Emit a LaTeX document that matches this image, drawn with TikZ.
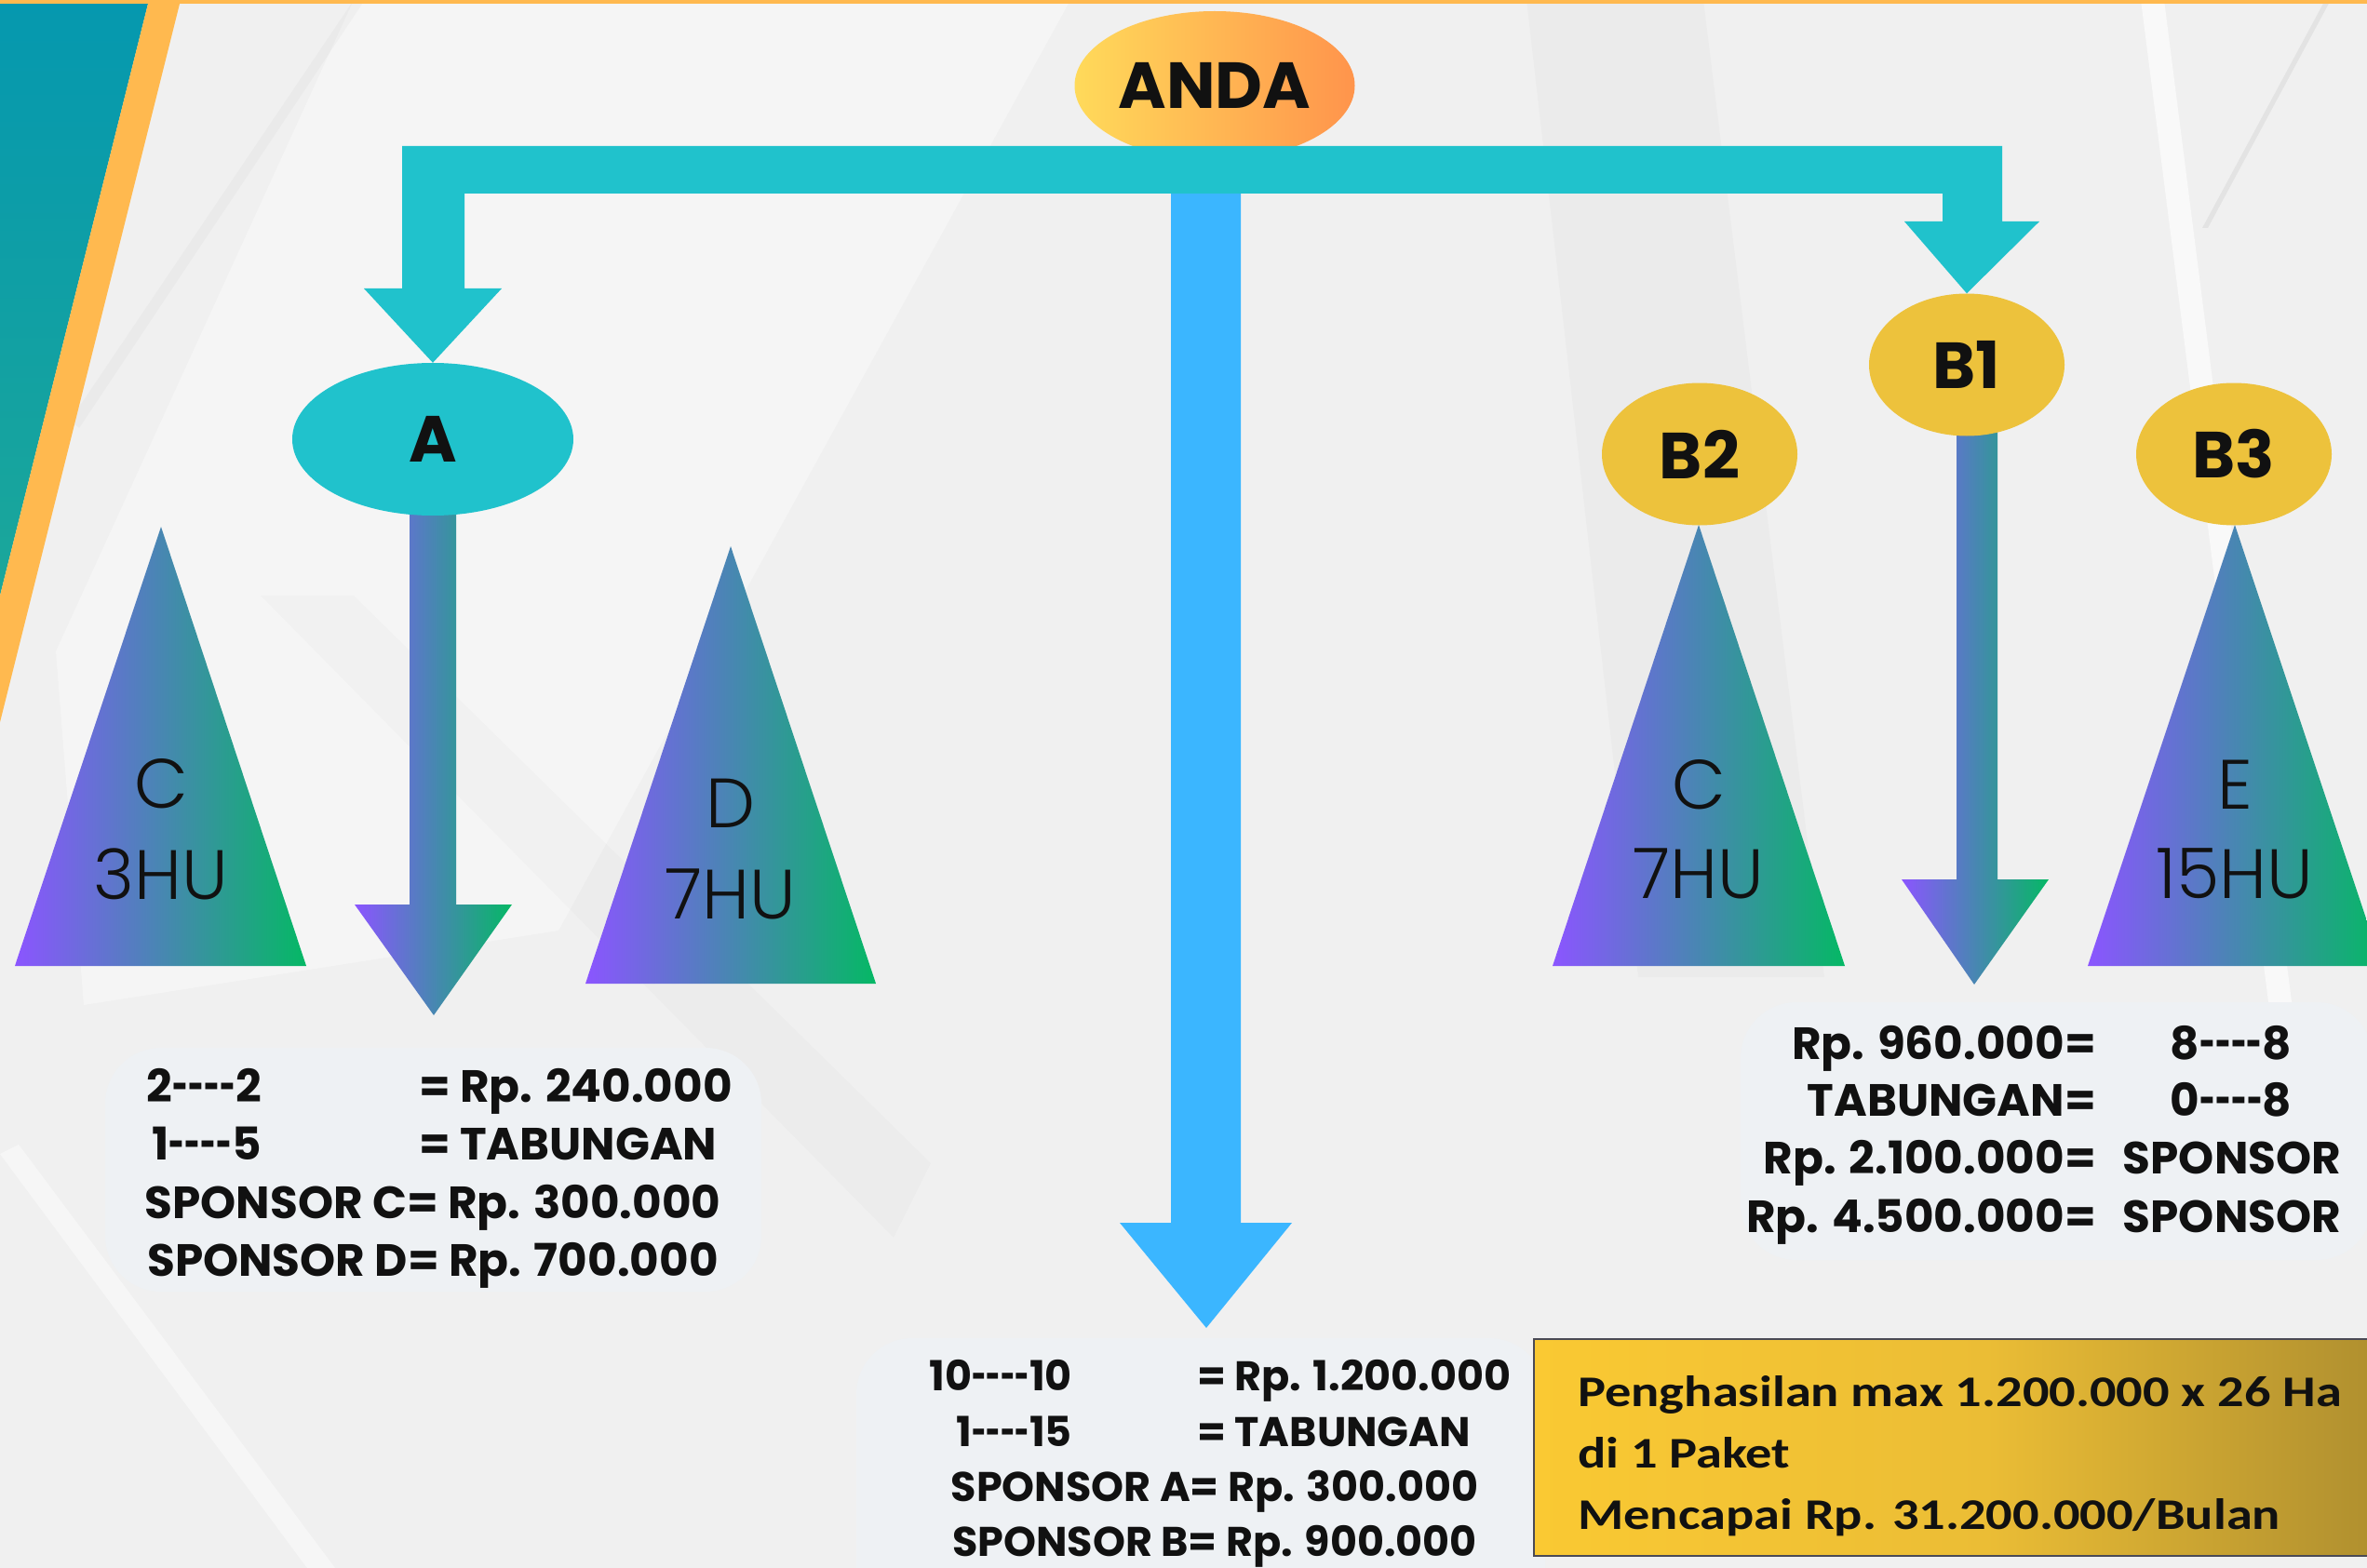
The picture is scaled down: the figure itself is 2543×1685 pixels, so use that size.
\documentclass[tikz,border=0pt]{standalone}
\usepackage{fontspec}
\usepackage{graphicx}
\setmainfont{Poppins}[Ligatures=TeXOff]
\newfontfamily\lightfam{Poppins Light}[Ligatures=TeXOff]
\newfontfamily\calibfam{Carlito}[FakeStretch=1.2,Ligatures=TeXOff]
\usetikzlibrary{shapes.geometric}
\definecolor{bgc}{HTML}{F0F0F0}
\definecolor{tealA}{HTML}{0598AF}
\definecolor{tealB}{HTML}{1BA79A}
\definecolor{orng}{HTML}{FFB94F}
\definecolor{cyanc}{HTML}{20C2CC}
\definecolor{bluec}{HTML}{3BB6FF}
\definecolor{goldc}{HTML}{EDC23C}
\definecolor{andaL}{HTML}{FFDA5A}
\definecolor{andaR}{HTML}{FF944C}
\definecolor{purp}{HTML}{8B55FF}
\definecolor{grn}{HTML}{05B865}
\definecolor{boxc}{HTML}{EEF1F4}
\definecolor{goldL}{HTML}{FAC933}
\definecolor{goldM}{HTML}{EBBD35}
\definecolor{goldR}{HTML}{A6882E}
\definecolor{goldB}{HTML}{4A4A55}
\definecolor{ink}{HTML}{111111}
\newcommand\lblfont{\bfseries\fontsize{70}{80}\selectfont}
\newcommand\trifont{\lightfam\fontsize{75}{86}\selectfont}
\newcommand\boxfont{\bfseries\fontsize{48.5}{56}\selectfont}
\newcommand\cboxfont{\bfseries\fontsize{44.5}{52}\selectfont}
\newcommand\goldfont{\calibfam\bfseries\fontsize{47}{67}\selectfont}
\newcommand\hy{\scalebox{0.6}[1]{-}}
\begin{document}
\begin{tikzpicture}[x=1pt,y=-1pt,
  oval/.style={ellipse,inner sep=0,font=\lblfont,text=ink},
  gradfill/.style={left color=purp,right color=grn},
  tri/.style={gradfill},
  trilbl/.style={inner sep=0,anchor=base,font=\trifont,text=ink},
  txtL/.style={inner sep=0,anchor=base west,text=ink},
  txtR/.style={inner sep=0,anchor=base east,text=ink},
  txtC/.style={inner sep=0,anchor=base,text=ink},
  panel/.style={fill=boxc,rounded corners=60}]
\useasboundingbox (0,0) rectangle (2543,1685);
\clip (0,0) rectangle (2543,1685);
% background
\fill[bgc] (0,0) rectangle (2543,1685);
\fill[white,opacity=0.35] (380,0) -- (1150,0) -- (600,1000) -- (90,1080) -- (60,700) -- cycle;
\fill[black,opacity=0.015] (280,640) -- (380,640) -- (1000,1250) -- (960,1330) -- cycle;
\fill[white,opacity=0.45] (0,1240) -- (20,1230) -- (360,1685) -- (330,1685) -- cycle;
\fill[black,opacity=0.018] (1640,0) -- (1830,0) -- (1960,1050) -- (1760,1050) -- cycle;
\fill[white,opacity=0.6] (2300,0) -- (2325,0) -- (2465,1100) -- (2440,1100) -- cycle;
\fill[black,opacity=0.05] (2498,0) -- (2504,0) -- (2372,245) -- (2366,245) -- cycle;
\fill[black,opacity=0.025] (380,0) -- (392,0) -- (85,460) -- (75,452) -- cycle;
% left corner band
\shade[top color=tealA,bottom color=tealB] (0,0) -- (160,0) -- (0,640) -- cycle;
\fill[orng] (160,0) -- (194,0) -- (0,776) -- (0,640) -- cycle;
\fill[orng] (0,0) rectangle (2543,4);
% text panels
\fill[panel] (113,1126) rectangle (818,1388);
\fill[panel] (1870,1077) rectangle (2549,1354);
\fill[panel] (920,1438) rectangle (1660,1770);
% triangles
\path[tri] (173,566) -- (329,1038) -- (16,1038) -- cycle;
\path[tri] (785,587) -- (941,1057) -- (629,1057) -- cycle;
\path[tri] (1825,564) -- (1982,1038) -- (1668,1038) -- cycle;
\path[tri] (2401,564) -- (2559,1038) -- (2243,1038) -- cycle;
% gradient arrows under A and B1
\coordinate (Adown) at (466,1091);
\coordinate (B1down) at (2121,1058);
\path[gradfill] (440,540) -- (490,540) -- (490,972) -- (550,972) -- (Adown) -- (381,972) -- (440,972) -- cycle;
\path[gradfill] (2102,455) -- (2146,455) -- (2146,945) -- (2201,945) -- (B1down) -- (2043,945) -- (2102,945) -- cycle;
% ovals
\node[oval,fill=cyanc,minimum width=302,minimum height=164] (A) at (465,472) {A};
\node[oval,fill=goldc,minimum width=210,minimum height=153] (B1) at (2113,392) {B1};
\node[oval,fill=goldc,minimum width=210,minimum height=153] (B2) at (1826,488) {B2};
\node[oval,fill=goldc,minimum width=210,minimum height=153] (B3) at (2400,488) {B3};
\node[oval,left color=andaL,right color=andaR,minimum width=301,minimum height=160] (anda) at (1305,92) {ANDA};
% blue arrow
\coordinate (bluetip) at (1296,1427);
\fill[bluec] (1258,200) -- (1333,200) -- (1333,1314) -- (1388,1314) -- (bluetip) -- (1203,1314) -- (1258,1314) -- cycle;
% cyan bar with two arrow heads
\fill[cyanc] (432,157) -- (2151,157) -- (2151,238) -- (2191,238) -- (B1.north) -- (2046,238) -- (2087,238) -- (2087,208)
  -- (499,208) -- (499,310) -- (539,310) -- (A.north) -- (391,310) -- (432,310) -- cycle;
% triangle labels
\node[trilbl] (t1a) at (173,868) {C};
\node[trilbl] (t1b) at (173,966) {3HU};
\node[trilbl] (t2a) at (785,889) {D};
\node[trilbl] (t2b) at (785,987) {7HU};
\node[trilbl] (t3a) at (1825,869) {C};
\node[trilbl] (t3b) at (1825,965) {7HU};
\node[trilbl] (t4a) at (2401,869) {E};
\node[trilbl] (t4b) at (2401,965) {15HU};
% left panel text
\begin{scope}[every node/.append style={font=\boxfont}]
\node[txtR] (l1a) at (281,1184) {2\hy\hy\hy\hy2};
\node[txtL] (l1b) at (450,1184) {= Rp. 240.000};
\node[txtR] (l2a) at (281,1246) {1\hy\hy\hy\hy5};
\node[txtL] (l2b) at (450,1246) {= TABUNGAN};
\node[txtC] (l3) at (465,1309) {SPONSOR C= Rp. 300.000};
\node[txtC] (l4) at (465,1371) {SPONSOR D= Rp. 700.000};
% right panel text
\node[txtR] (r1a) at (2252,1138) {Rp. 960.000=};
\node[txtC] (r1b) at (2397,1138) {8\hy\hy\hy\hy8};
\node[txtR] (r2a) at (2252,1199) {TABUNGAN=};
\node[txtC] (r2b) at (2397,1199) {0\hy\hy\hy\hy8};
\node[txtR] (r3a) at (2252,1261) {Rp. 2.100.000=};
\node[txtC] (r3b) at (2398,1261) {SPONSOR};
\node[txtR] (r4a) at (2252,1324) {Rp. 4.500.000=};
\node[txtC] (r4b) at (2398,1324) {SPONSOR};
\end{scope}
% center panel text
\begin{scope}[every node/.append style={font=\cboxfont}]
\node[txtR] (c1a) at (1152,1494) {10\hy\hy\hy\hy10};
\node[txtL] (c1b) at (1286,1494) {= Rp. 1.200.000};
\node[txtR] (c2a) at (1152,1554) {1\hy\hy\hy\hy15};
\node[txtL] (c2b) at (1286,1554) {= TABUNGAN};
\node[txtC] (c3) at (1305,1613) {SPONSOR A= Rp. 300.000};
\node[txtC] (c4) at (1305,1672) {SPONSOR B= Rp. 900.000};
\end{scope}
% gold box
\path[draw=goldB,line width=2.5,left color=goldL,right color=goldR,middle color=goldM] (1648,1439) rectangle (2620,1672);
\begin{scope}[every node/.append style={font=\goldfont,text=black!88}]
\node[txtL] (g1) at (1695,1511) {Penghasilan max 1.200.000 x 26 Ha};
\node[txtL] (g2) at (1695,1577) {di 1 Paket};
\node[txtL] (g3) at (1695,1643) {Mencapai Rp. 31.200.000/Bulan};
\end{scope}
\end{tikzpicture}
\end{document}
